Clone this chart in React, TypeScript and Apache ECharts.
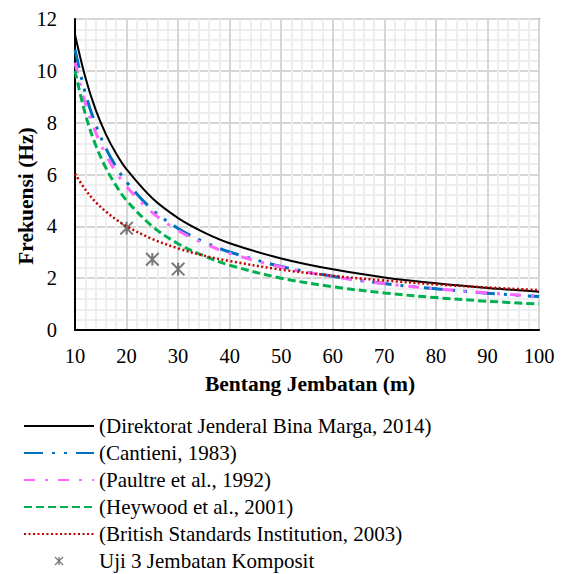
import React, { useEffect, useRef } from "react";
import * as echarts from "echarts";

const SPANS = [10, 12, 14, 16, 18, 20, 25, 30, 35, 40, 50, 60, 70, 80, 90, 100];
const binaMarga = [11.39, 9.75, 8.5, 7.55, 6.8, 6.2, 5.08, 4.32, 3.77, 3.35, 2.76, 2.34, 2.03, 1.8, 1.62, 1.48];
const cantieni = [10.82, 9.14, 7.93, 7.01, 6.29, 5.71, 4.64, 3.92, 3.4, 3.01, 2.45, 2.07, 1.79, 1.59, 1.42, 1.29];
const paultre = [10.32, 8.76, 7.63, 6.76, 6.08, 5.53, 4.53, 3.84, 3.34, 2.96, 2.43, 2.06, 1.79, 1.59, 1.43, 1.3];
const heywood = [10.0, 8.33, 7.14, 6.25, 5.56, 5.0, 4.0, 3.33, 2.86, 2.5, 2.0, 1.67, 1.43, 1.25, 1.11, 1.0];
const bsi = [6.03, 5.42, 4.94, 4.57, 4.26, 4.0, 3.51, 3.15, 2.87, 2.66, 2.33, 2.09, 1.91, 1.76, 1.64, 1.54];
const testSpans = [20, 25, 30];
const testFreq = [3.93, 2.73, 2.35];

const seriesNames = [
  "(Direktorat Jenderal Bina Marga, 2014)",
  "(Cantieni, 1983)",
  "(Paultre et al., 1992)",
  "(Heywood et al., 2001)",
  "(British Standards Institution, 2003)",
  "Uji 3 Jembatan Komposit",
];

const xTitle = "Bentang Jembatan (m)";
const yTitle = "Frekuensi (Hz)";

const FONT = "Times New Roman";

const asterisk =
  "path://M8.7 2L11.3 2L11.3 18L8.7 18Z" +
  "M2.9 1.1L18.9 17.1L17.1 18.9L1.1 2.9Z" +
  "M18.9 2.9L2.9 18.9L1.1 17.1L17.1 1.1Z";

const pairs = (xs: number[], ys: number[]) => xs.map((x, i) => [x, ys[i]]);

export default function App() {
  const ref = useRef<HTMLDivElement>(null);
  useEffect(() => {
    if (!ref.current) return;
    const chart = echarts.init(ref.current, null, { renderer: "svg" });
    const line = (name: string, data: number[], color: string, width: number, type: any) => ({
      name,
      type: "line",
      data: pairs(SPANS, data),
      smooth: 0.35,
      symbol: "none",
      showSymbol: false,
      lineStyle: { color, width, type, cap: "butt" },
      itemStyle: { color },
    });
    const legendData = seriesNames.map((name, i) =>
      i < 5 ? { name, itemStyle: { opacity: 0 } } : { name }
    );
    chart.setOption({
      animation: false,
      backgroundColor: "#ffffff",
      textStyle: { fontFamily: FONT },
      grid: {
        left: 75,
        top: 19,
        width: 464,
        height: 311,
        show: true,
        borderColor: "#808080",
        borderWidth: 2,
        containLabel: false,
      },
      xAxis: {
        type: "value",
        min: 10,
        max: 100,
        interval: 10,
        axisLine: { show: true, lineStyle: { color: "#000", width: 2 } },
        axisTick: { show: false },
        axisLabel: { color: "#000", fontSize: 20.5, fontFamily: FONT, margin: 15 },
        splitLine: { show: true, lineStyle: { color: "#d6d6d6", width: 2 } },
        minorTick: { show: true, splitNumber: 5, length: 0, lineStyle: { width: 0 } },
        minorSplitLine: { show: true, lineStyle: { color: "#eeeeee", width: 2 } },
      },
      yAxis: {
        type: "value",
        min: 0,
        max: 12,
        interval: 2,
        axisLine: { show: true, lineStyle: { color: "#000", width: 2 } },
        axisTick: { show: false },
        axisLabel: { color: "#000", fontSize: 20.5, fontFamily: FONT, margin: 18 },
        splitLine: { show: true, lineStyle: { color: "#d6d6d6", width: 2 } },
        minorTick: { show: true, splitNumber: 5, length: 0, lineStyle: { width: 0 } },
        minorSplitLine: { show: true, lineStyle: { color: "#eeeeee", width: 2 } },
      },
      legend: {
        orient: "vertical",
        left: 23,
        top: 415.5,
        padding: 0,
        itemWidth: 70,
        itemHeight: 9,
        itemGap: 6,
        data: legendData,
        textStyle: { color: "#000", fontSize: 21, fontFamily: FONT, lineHeight: 21 },
      },
      graphic: [
        {
          type: "text",
          x: 310,
          y: 384,
          style: {
            text: xTitle,
            fontFamily: FONT,
            fontWeight: "bold",
            fontSize: 21.5,
            fill: "#000",
            align: "center",
            verticalAlign: "middle",
          },
        },
        {
          type: "text",
          x: 26,
          y: 196,
          rotation: Math.PI / 2,
          style: {
            text: yTitle,
            fontFamily: FONT,
            fontWeight: "bold",
            fontSize: 21.5,
            fill: "#000",
            align: "center",
            verticalAlign: "middle",
          },
        },
      ],
      series: [
        line(seriesNames[0], binaMarga, "#000000", 2, "solid"),
        line(seriesNames[1], cantieni, "#0070C0", 3, [19, 9, 3, 9, 3, 9]),
        line(seriesNames[2], paultre, "#FF66FF", 3, [11, 10, 3, 10]),
        line(seriesNames[3], heywood, "#00B050", 3, [8, 4]),
        line(seriesNames[4], bsi, "#C00000", 2.5, [2, 2.5]),
        {
          name: seriesNames[5],
          type: "scatter",
          data: pairs(testSpans, testFreq),
          symbol: asterisk,
          symbolSize: 14,
          itemStyle: { color: "#595959" },
        },
      ],
    });
    return () => chart.dispose();
  }, []);
  return (
    <div
      ref={ref}
      style={{ position: "absolute", left: 0, top: 0, width: 566, height: 574, background: "#fff" }}
    />
  );
}
